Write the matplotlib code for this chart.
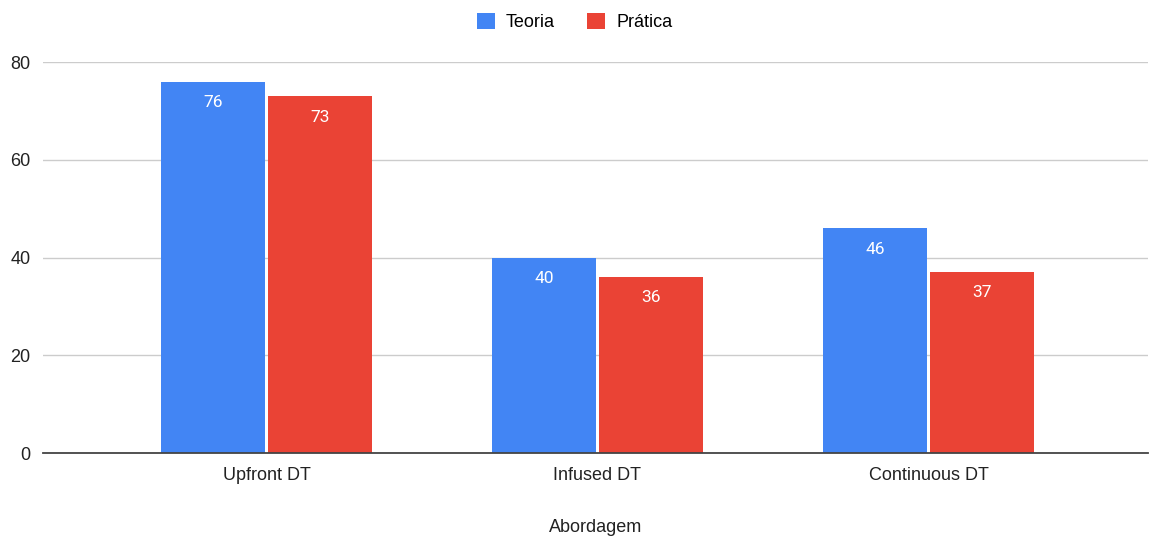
import numpy as np
import matplotlib.pyplot as plt

plt.rcParams['font.family'] = ['Liberation Sans', 'DejaVu Sans']

categorias = ["Upfront DT", "Infused DT", "Continuous DT"]
teoria = [76, 40, 46]
pratica = [73, 36, 37]

azul = "#4285F4"
vermelho = "#EA4335"

fig = plt.figure(figsize=(11.49, 5.36), dpi=100)
ax = fig.add_axes([43 / 1149, 83 / 536, (1148 - 43) / 1149, 391 / 536])

x = np.arange(len(categorias))
largura = 0.315
desloc = 0.162

b1 = ax.bar(x - desloc, teoria, largura, color=azul, label="Teoria", zorder=3)
b2 = ax.bar(x + desloc, pratica, largura, color=vermelho, label="Prática", zorder=3)

# valores dentro das barras, perto do topo
for barras in (b1, b2):
    for b in barras:
        ax.annotate(f"{int(b.get_height())}",
                    (b.get_x() + b.get_width() / 2, b.get_height()),
                    xytext=(0, -15), textcoords="offset points",
                    ha="center", va="center", color="white", fontsize=12.5,
                    family=["Roboto", "DejaVu Sans"], zorder=4)

ax.set_xlim(-0.675, 2.663)
ax.set_ylim(0, 80)
ax.set_yticks([0, 20, 40, 60, 80])
ax.set_xticks(x)
ax.set_xticklabels(categorias)
ax.tick_params(axis="both", length=0, labelsize=13, colors="#222222")
ax.tick_params(axis="x", pad=10)
ax.tick_params(axis="y", pad=9)

ax.grid(axis="y", color="#cccccc", linewidth=1, zorder=0)
for s in ["top", "right", "left"]:
    ax.spines[s].set_visible(False)
ax.spines["bottom"].set_color("#444444")
ax.spines["bottom"].set_linewidth(1.3)
ax.spines["bottom"].set_zorder(5)

ax.set_xlabel("Abordagem", fontsize=13, color="#222222", labelpad=25)

fig.legend(loc="upper center", bbox_to_anchor=(0.5, 1.0), ncol=2, frameon=False,
           fontsize=13, handlelength=1.0, handleheight=1.0, handletextpad=0.6,
           columnspacing=1.8, borderaxespad=0.3)

fig.savefig("out.png", dpi=100)
